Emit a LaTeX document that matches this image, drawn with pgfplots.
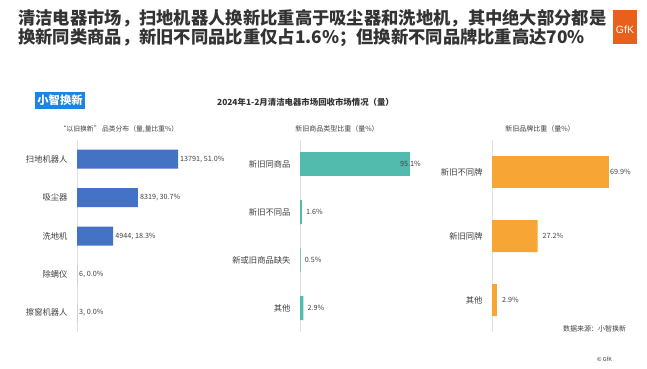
\documentclass[border=0pt]{standalone}
\usepackage{pgfplots}
\pgfplotsset{compat=1.18}
\usepackage{fontspec}
\setmainfont{Noto Sans CJK SC}
\newfontfamily\logofont{Liberation Sans}
\definecolor{txt}{HTML}{404040}
\definecolor{ttl}{HTML}{333333}
\definecolor{bblue}{HTML}{4472C4}
\definecolor{bteal}{HTML}{52BBAD}
\definecolor{borange}{HTML}{F7A535}
\definecolor{gfk}{HTML}{E8601C}
\definecolor{tagblue}{HTML}{1B84E6}
\definecolor{axgray}{HTML}{E0E0E0}
\pgfplotsset{panel/.style={
  xbar, scale only axis, anchor=south west, height=192pt,
  y dir=reverse, xmin=0,
  axis x line=none, axis y line=left,
  axis line style={-,draw=axgray,line width=0.6pt},
  major tick length=0pt,
  yticklabel style={font=\fontsize{8.3}{10}\selectfont, text=txt, xshift=-6pt},
  nodes near coords, point meta=explicit symbolic,
  nodes near coords style={font=\fontsize{7.2}{9}\selectfont, text=txt, anchor=west, inner sep=2pt},
  clip=false,
}}
\begin{document}
\begin{tikzpicture}
\fill[white] (0,0) rectangle (647pt,368pt);
% title
\node[anchor=west, inner sep=0, font=\bfseries\fontsize{17.3}{20}\selectfont, text=ttl] at (18pt,349.5pt) {清洁电器市场，扫地机器人换新比重高于吸尘器和洗地机，其中绝大部分都是};
\node[anchor=west, inner sep=0, font=\bfseries\fontsize{17.3}{20}\selectfont, text=ttl] at (18pt,330pt) {换新同类商品，新旧不同品比重仅占1.6\%；但换新不同品牌比重高达70\%};
% logo
\fill[gfk] (613pt,324pt) rectangle (637pt,358pt);
\node[text=white, font=\logofont\fontsize{10.5}{12}\selectfont, inner sep=0] at (625pt,338pt) {GfK};
% tag
\node[fill=tagblue, text=white, font=\bfseries\fontsize{11.3}{13}\selectfont, inner sep=0, minimum height=17pt, minimum width=50pt] at (60pt,267.5pt) {小智换新};
% subtitle
\node[font=\bfseries\fontsize{8.4}{10}\selectfont, text=ttl] at (305.5pt,266pt) {2024年1-2月清洁电器市场回收市场情况（量）};
% panel titles
\node[font=\fontsize{6.8}{8}\selectfont, text=txt] at (119pt,239pt) {“以旧换新” 品类分布（量,量比重\%）};
\node[font=\fontsize{7}{8}\selectfont, text=txt] at (337pt,239pt) {新旧商品类型比重（量\%）};
\node[font=\fontsize{7}{8}\selectfont, text=txt] at (540pt,239pt) {新旧品牌比重（量\%）};
% footer
\node[anchor=west, font=\fontsize{7}{8}\selectfont, text=txt, inner sep=0] at (563pt,39pt) {数据来源：小智换新};
\node[font=\fontsize{5.5}{7}\selectfont, text=txt, inner sep=0] at (604.5pt,9pt) {© GfK};

% panel 1
\begin{axis}[panel, at={(77pt,36pt)}, width=146.5pt, xmax=20000,
  ymin=-0.5, ymax=4.5, bar width=19pt, ytick={0,1,2,3,4},
  yticklabels={扫地机器人,吸尘器,洗地机,除螨仪,擦窗机器人}]
\addplot[fill=bblue, draw=none, bar shift=0pt] coordinates {
 (13791,0) [13791, 51.0\%]
 (8319,1) [8319, 30.7\%]
 (4944,2) [4944, 18.3\%]
 (6,3) [6, 0.0\%]
 (3,4) [3, 0.0\%]
};
\end{axis}

% panel 2
\begin{axis}[panel, at={(300pt,36pt)}, width=115.7pt, xmax=100,
  ymin=-0.5, ymax=3.5, bar width=24pt, ytick={0,1,2,3},
  yticklabels={新旧同商品,新旧不同品,新或旧商品缺失,其他}]
\addplot[fill=bteal, draw=none, bar shift=0pt, nodes near coords style={xshift=-12pt}] coordinates {
 (95.1,0) [95.1\%]
};
\addplot[fill=bteal, draw=none, bar shift=0pt, nodes near coords style={xshift=2pt}] coordinates {
 (1.6,1) [1.6\%]
 (0.5,2) [0.5\%]
 (2.9,3) [2.9\%]
};
\end{axis}

% panel 3
\begin{axis}[panel, at={(492pt,36pt)}, width=133.9pt, xmax=80,
  ymin=-0.5, ymax=2.5, bar width=32pt, ytick={0,1,2},
  yticklabels={新旧不同牌,新旧同牌,其他}]
\addplot[fill=borange, draw=none, bar shift=0pt, nodes near coords style={xshift=-1pt}] coordinates {
 (69.9,0) [69.9\%]
};
\addplot[fill=borange, draw=none, bar shift=0pt, nodes near coords style={xshift=3pt}] coordinates {
 (27.2,1) [27.2\%]
 (2.9,2) [2.9\%]
};
\end{axis}
\end{tikzpicture}
\end{document}
